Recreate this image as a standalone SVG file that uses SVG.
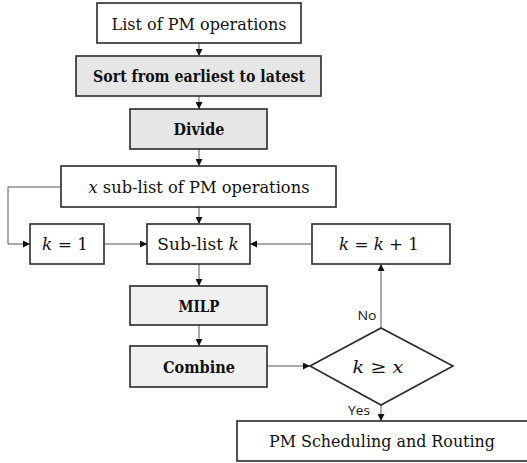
<svg xmlns="http://www.w3.org/2000/svg" width="527" height="463" viewBox="0 0 527 463">
<style>
.box{stroke:#2a2a2a;stroke-width:1.6;fill:#fff}
.g1{fill:#e6e6e6}
.g2{fill:#f0f0f0}
.t{font-family:"DejaVu Serif","Liberation Serif",serif;font-size:17px;fill:#111;text-anchor:middle}
.b{font-weight:bold}
.m{font-style:italic}
.s{font-family:"Open Sans","DejaVu Sans",sans-serif;font-size:12px;fill:#111;text-anchor:middle}
.c{stroke:#555;stroke-width:1;fill:none}
</style>
<defs>
<marker id="ah" viewBox="0 0 10 10" refX="10" refY="5" markerWidth="7" markerHeight="7" markerUnits="userSpaceOnUse" orient="auto">
<path d="M0,0 L10,5 L0,10 z" fill="#111"/>
</marker>
</defs>
<g id="connectors">
<line class="c" x1="199" y1="43" x2="199" y2="56" marker-end="url(#ah)"/>
<line class="c" x1="199" y1="96" x2="199" y2="109" marker-end="url(#ah)"/>
<line class="c" x1="199" y1="149" x2="199" y2="166" marker-end="url(#ah)"/>
<polyline class="c" points="61,187 8,187 8,244 30,244" marker-end="url(#ah)"/>
<line class="c" x1="199" y1="207" x2="199" y2="224" marker-end="url(#ah)"/>
<line class="c" x1="104" y1="244" x2="147" y2="244" marker-end="url(#ah)"/>
<line class="c" x1="312" y1="244" x2="250" y2="244" marker-end="url(#ah)"/>
<line class="c" x1="199" y1="264" x2="199" y2="286" marker-end="url(#ah)"/>
<line class="c" x1="199" y1="325" x2="199" y2="346" marker-end="url(#ah)"/>
<line class="c" x1="267" y1="366" x2="310" y2="366" marker-end="url(#ah)"/>
<line class="c" x1="381" y1="328" x2="381" y2="264" marker-end="url(#ah)"/>
<line class="c" x1="381" y1="405" x2="381" y2="421" marker-end="url(#ah)"/>
<text class="s" x="367" y="320" textLength="19" lengthAdjust="spacingAndGlyphs">No</text>
<text class="s" x="359" y="415" textLength="22" lengthAdjust="spacingAndGlyphs">Yes</text>
</g>
<g id="n1"><rect class="box" x="97" y="3" width="204" height="40"/><text class="t" x="199" y="30" textLength="175" lengthAdjust="spacingAndGlyphs">List of PM operations</text></g>
<g id="n2"><rect class="box g1" x="76" y="56" width="245" height="40"/><text class="t b" x="199" y="82" textLength="212" lengthAdjust="spacingAndGlyphs">Sort from earliest to latest</text></g>
<g id="n3"><rect class="box g1" x="130" y="109" width="137" height="40"/><text class="t b" x="199" y="135" textLength="51" lengthAdjust="spacingAndGlyphs">Divide</text></g>
<g id="n4"><rect class="box" x="61" y="166" width="275" height="41"/><text class="t" x="199" y="193" textLength="221" lengthAdjust="spacingAndGlyphs"><tspan class="m">x</tspan> sub-list of PM operations</text></g>
<g id="n5"><rect class="box" x="30" y="224" width="74" height="40"/><text class="t" x="65" y="250" textLength="46" lengthAdjust="spacingAndGlyphs"><tspan class="m">k</tspan> = 1</text></g>
<g id="n6"><rect class="box" x="147" y="224" width="103" height="40"/><text class="t" x="198" y="250">Sub-list <tspan class="m">k</tspan></text></g>
<g id="n7"><rect class="box" x="312" y="224" width="138" height="40"/><text class="t" x="379" y="250" textLength="80" lengthAdjust="spacingAndGlyphs"><tspan class="m">k</tspan> = <tspan class="m">k</tspan> + 1</text></g>
<g id="n8"><rect class="box g2" x="130" y="286" width="137" height="39"/><text class="t b" x="199" y="312" textLength="41" lengthAdjust="spacingAndGlyphs">MILP</text></g>
<g id="n9"><rect class="box g2" x="130" y="346" width="137" height="41"/><text class="t b" x="199" y="373" textLength="72" lengthAdjust="spacingAndGlyphs">Combine</text></g>
<g id="n10"><polygon class="box" points="310,366 381,328 453,366 381,405"/><text class="t" x="378" y="373" textLength="51" lengthAdjust="spacingAndGlyphs"><tspan class="m">k</tspan> ≥ <tspan class="m">x</tspan></text></g>
<g id="n11"><rect class="box" x="237" y="421" width="295" height="40"/><text class="t" x="382" y="447" textLength="226" lengthAdjust="spacingAndGlyphs">PM Scheduling and Routing</text></g>
</svg>
